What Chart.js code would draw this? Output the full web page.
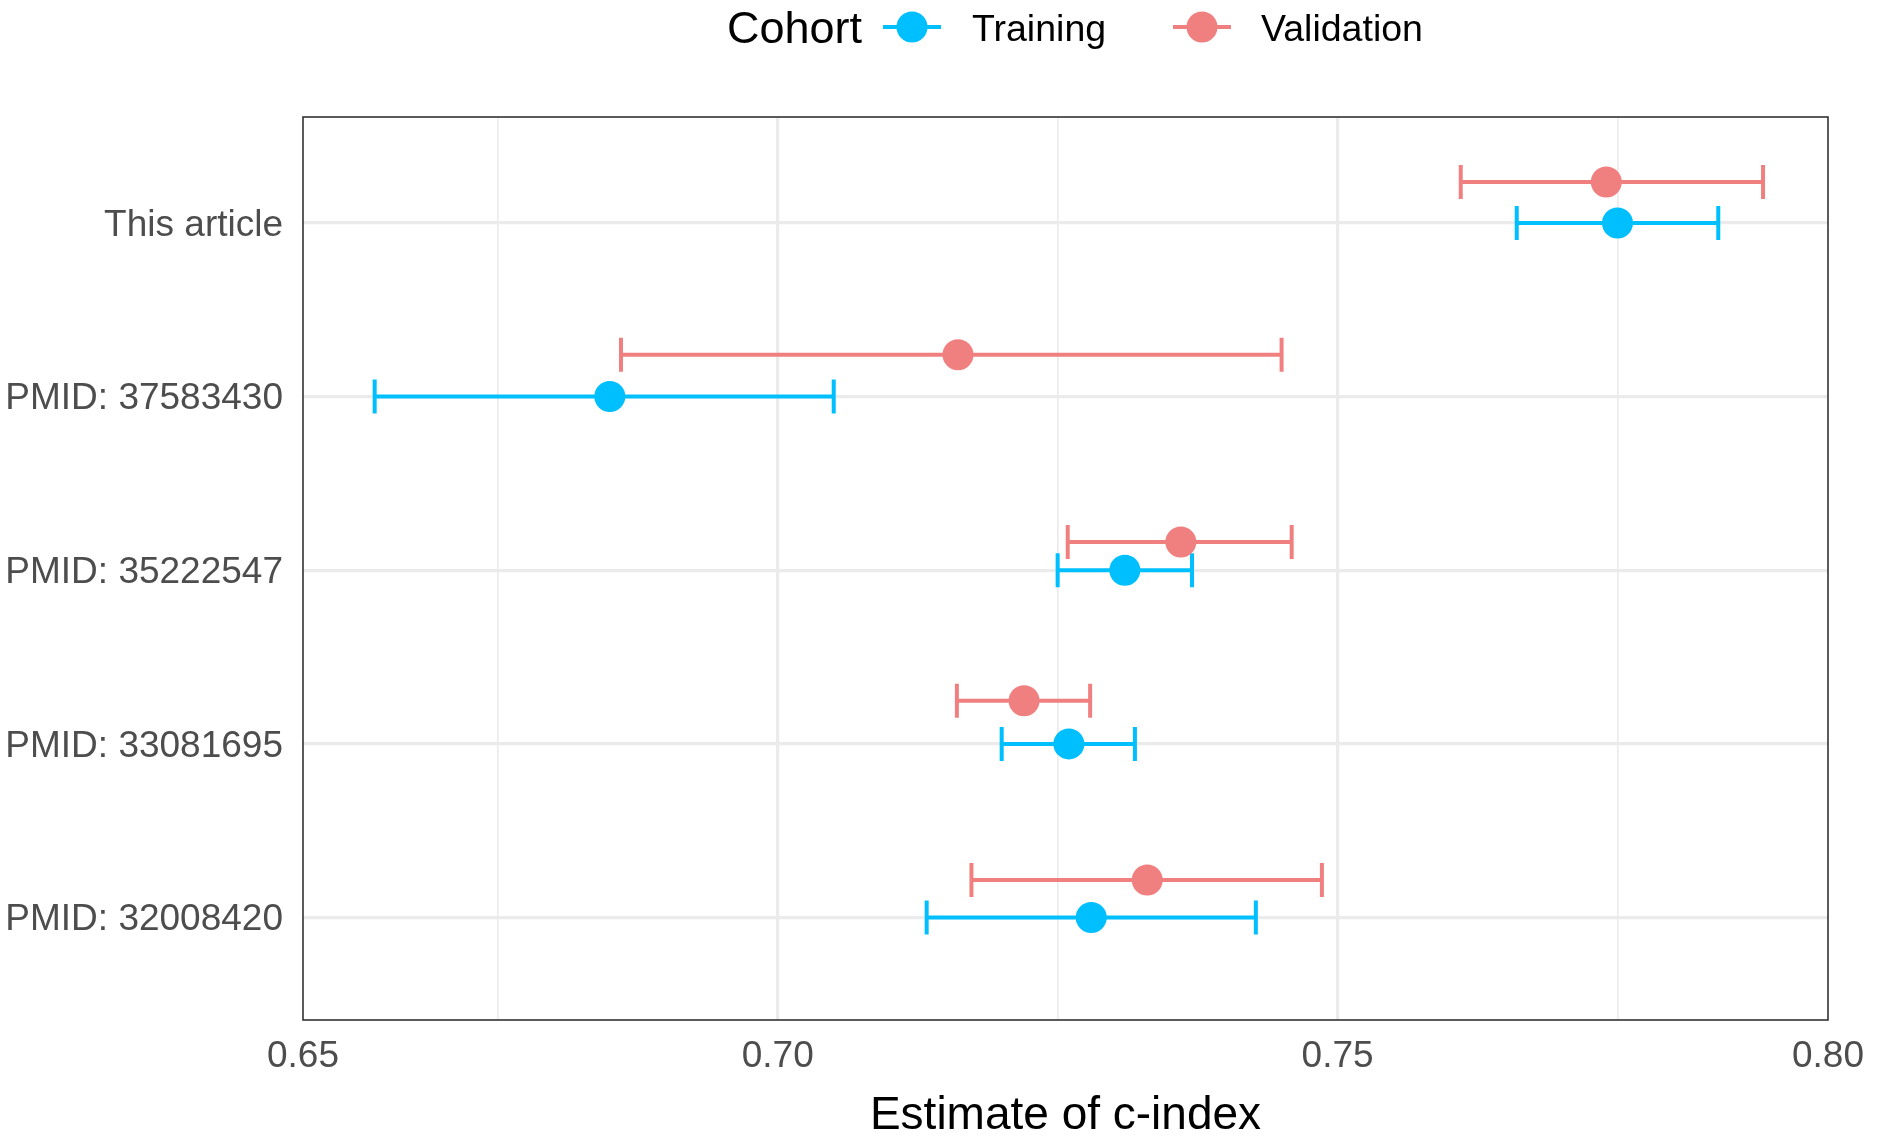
<!DOCTYPE html>
<html>
<head>
<meta charset="utf-8">
<title>Estimate of c-index</title>
<script src="https://cdn.jsdelivr.net/npm/chart.js@4.4.1/dist/chart.umd.min.js"></script>
<style>
    html, body { margin: 0; padding: 0; background: #fff; }
    #wrap { position: relative; width: 1879px; height: 1141px; }
</style>
</head>
<body>
<div id="wrap"><canvas id="cindexChart"></canvas></div>
<script>
'use strict';

const categories = ['This article', 'PMID: 37583430', 'PMID: 35222547', 'PMID: 33081695', 'PMID: 32008420'];

const trainEst  = [0.7750, 0.6850, 0.7310, 0.7260, 0.7280];
const trainLow  = [0.7660, 0.6640, 0.7250, 0.7200, 0.7133];
const trainHigh = [0.7840, 0.7050, 0.7370, 0.7319, 0.7427];

const validEst  = [0.7740, 0.7161, 0.7360, 0.7220, 0.7330];
const validLow  = [0.7610, 0.6860, 0.7259, 0.7160, 0.7173];
const validHigh = [0.7880, 0.7450, 0.7459, 0.7279, 0.7486];

// validation rows sit a little above their category line (jittered in the original)
const validRowShift = [-0.236, -0.241, -0.163, -0.248, -0.216];

// x range of the panel, and where the tick labels sit
const xMin = 0.6576;
const xMax = 0.7938;
const xTickValues = [xMin, 0.675, 0.70, 0.725, 0.75, 0.775, xMax];
const xTickLabels = ['0.65', '', '0.70', '', '0.75', '', '0.80'];
const majorTicks = [0.70, 0.75];

const TRAIN_COLOR = '#00BFFF';
const VALID_COLOR = '#F08080';
const GRID_COLOR = '#EBEBEB';
const FONT = '"Liberation Sans", Arial, Helvetica, sans-serif';

// whiskers with caps, drawn under the points
const errorBars = {
    id: 'errorBars',
    beforeDatasetsDraw(chart) {
        const { ctx, scales: { x, y } } = chart;
        const capHalf = 17;
        const groups = [
            { low: validLow, high: validHigh, shift: validRowShift, color: VALID_COLOR },
            { low: trainLow, high: trainHigh, shift: null, color: TRAIN_COLOR }
        ];
        ctx.save();
        ctx.lineWidth = 4;
        ctx.lineCap = 'butt';
        groups.forEach(g => {
            ctx.strokeStyle = g.color;
            g.low.forEach((lo, i) => {
                const py = y.getPixelForValue(i + (g.shift ? g.shift[i] : 0));
                const x1 = x.getPixelForValue(lo);
                const x2 = x.getPixelForValue(g.high[i]);
                ctx.beginPath();
                ctx.moveTo(x1, py);
                ctx.lineTo(x2, py);
                ctx.moveTo(x1, py - capHalf);
                ctx.lineTo(x1, py + capHalf);
                ctx.moveTo(x2, py - capHalf);
                ctx.lineTo(x2, py + capHalf);
                ctx.stroke();
            });
        });
        ctx.restore();
    }
};

// panel border on all four sides
const panelBorder = {
    id: 'panelBorder',
    afterDatasetsDraw(chart) {
        const { ctx, chartArea: a } = chart;
        ctx.save();
        ctx.strokeStyle = '#333333';
        ctx.lineWidth = 1.6;
        ctx.strokeRect(a.left, a.top, a.right - a.left, a.bottom - a.top);
        ctx.restore();
    }
};

// ggplot-like legend row at the top
const cohortLegend = {
    id: 'cohortLegend',
    afterDraw(chart) {
        const ctx = chart.ctx;
        const cy = 27;
        const items = [
            { label: 'Training', color: TRAIN_COLOR, x1: 883, x2: 941, cx: 912, tx: 972 },
            { label: 'Validation', color: VALID_COLOR, x1: 1173, x2: 1231, cx: 1202, tx: 1261 }
        ];
        ctx.save();
        ctx.fillStyle = '#000';
        ctx.textBaseline = 'alphabetic';
        ctx.textAlign = 'left';
        ctx.font = '45px ' + FONT;
        ctx.fillText('Cohort', 727, cy + 16);
        items.forEach(it => {
            ctx.strokeStyle = it.color;
            ctx.lineWidth = 4;
            ctx.beginPath();
            ctx.moveTo(it.x1, cy);
            ctx.lineTo(it.x2, cy);
            ctx.stroke();
            ctx.fillStyle = it.color;
            ctx.beginPath();
            ctx.arc(it.cx, cy, 15.5, 0, Math.PI * 2);
            ctx.fill();
            ctx.fillStyle = '#000';
            ctx.font = '37.5px ' + FONT;
            ctx.fillText(it.label, it.tx, cy + 13.5);
        });
        ctx.restore();
    }
};

function xGridWidth(ctx) {
    const v = ctx.tick ? ctx.tick.value : null;
    if (v === xMin || v === xMax) return 0;
    return majorTicks.includes(v) ? 3.2 : 1.7;
}

new Chart(document.getElementById('cindexChart'), {
    type: 'scatter',
    data: {
        datasets: [
            {
                label: 'Validation',
                data: validEst.map((v, i) => ({ x: v, y: i + validRowShift[i] })),
                backgroundColor: VALID_COLOR,
                borderWidth: 0,
                pointRadius: 15.5,
                pointHoverRadius: 15.5
            },
            {
                label: 'Training',
                data: trainEst.map((v, i) => ({ x: v, y: i })),
                backgroundColor: TRAIN_COLOR,
                borderWidth: 0,
                pointRadius: 15.5,
                pointHoverRadius: 15.5
            }
        ]
    },
    options: {
        responsive: true,
        maintainAspectRatio: false,
        animation: false,
        layout: { padding: { top: 117, right: 47, left: 0, bottom: 0 } },
        plugins: {
            legend: { display: false },
            tooltip: { enabled: false }
        },
        scales: {
            x: {
                type: 'linear',
                min: xMin,
                max: xMax,
                afterBuildTicks: s => { s.ticks = xTickValues.map(v => ({ value: v })); },
                afterFit: s => { s.height = 121; },
                grid: { color: GRID_COLOR, lineWidth: xGridWidth, drawTicks: false },
                border: { display: false },
                ticks: {
                    padding: 15,
                    color: '#4D4D4D',
                    font: { family: FONT, size: 37 },
                    maxRotation: 0,
                    autoSkip: false,
                    callback: (v, i) => xTickLabels[i]
                },
                title: {
                    display: true,
                    text: 'Estimate of c-index',
                    color: '#000',
                    font: { family: FONT, size: 46, lineHeight: 1 },
                    padding: { top: 0, bottom: 2 }
                }
            },
            y: {
                type: 'linear',
                reverse: true,
                min: -0.61,
                max: 4.59,
                afterBuildTicks: s => { s.ticks = categories.map((c, i) => ({ value: i })); },
                afterFit: s => { s.width = 303; },
                grid: { color: GRID_COLOR, lineWidth: 3.2, drawTicks: false },
                border: { display: false },
                ticks: {
                    padding: 20,
                    labelOffset: 2.5,
                    color: '#4D4D4D',
                    font: { family: FONT, size: 37 },
                    autoSkip: false,
                    callback: v => categories[v]
                }
            }
        }
    },
    plugins: [errorBars, panelBorder, cohortLegend]
});
</script>
</body>
</html>
